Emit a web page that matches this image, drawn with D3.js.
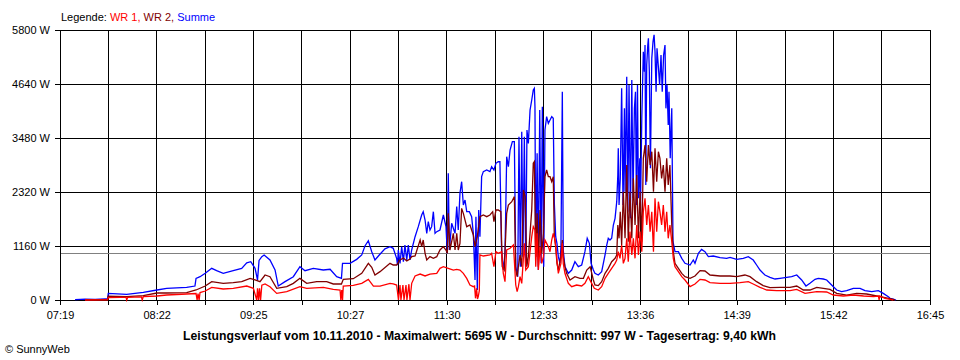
<!DOCTYPE html>
<html><head><meta charset="utf-8">
<script src="https://cdn.jsdelivr.net/npm/d3@7"></script>
<style>
html,body{margin:0;padding:0;background:#fff;}
svg{display:block;font-family:"Liberation Sans",Arial,sans-serif;}
</style></head>
<body><svg id="chart" width="960" height="360"></svg>
<script>
// time = minutes after midnight, value = W
const xLabels = ["07:19","08:22","09:25","10:27","11:30","12:33","13:36","14:39","15:42","16:45"];
const yTicks = [0,1160,2320,3480,4640,5800];
const average = 997;
const seriesNames = ["WR 1","WR 2","Summe"];
const seriesColors = ["#ff0000","#800000","#0000ff"];
const title = "Leistungsverlauf vom 10.11.2010 - Maximalwert: 5695 W - Durchschnitt: 997 W - Tagesertrag: 9,40 kWh";

const summe = [
[448.8,10],[455.3,20],[461.8,15],[468.3,25],[469.9,25],[470.4,143],[482.4,122],[493.2,165],[502.1,215],[508.4,250],[521.4,272],[526.8,300],[527.5,465],[530.1,500],[533.5,573],[537.7,680],[540.9,630],[545.2,573],[551.7,630],[557.2,680],[560.5,800],[563.1,823],[565.9,680],[567.5,430],[568.5,850],[570.3,930],[571.8,967],[575.6,860],[578.9,645],[581.0,300],[585.4,394],[590.8,500],[595.1,716],[598.4,630],[603.8,680],[610.3,645],[614.7,660],[619.0,500],[622.1,465],[622.8,788],[627.7,788],[632.0,873],[635.3,967],[637.4,1160],[639.6,1274],[641.8,1038],[643.9,860],[646.7,967],[650.4,1100],[653.7,1146],[655.8,1110],[658.0,895],[658.6,750],[659.1,1074],[660.2,788],[661.3,1146],[662.4,823],[663.4,1181],[664.6,860],[665.6,1181],[666.7,860],[667.8,1074],[670.0,1360],[672.1,1575],[674.3,1826],[675.3,1897],[676.5,1718],[677.6,1432],[678.6,1683],[679.7,1504],[680.8,1575],[681.9,1897],[683.0,1432],[684.1,1468],[686.2,1504],[688.4,1826],[690.1,1575],[691.0,1002],[691.6,2720],[692.3,1074],[693.8,1647],[696.0,1432],[697.1,2005],[698.1,1504],[699.2,2291],[700.3,2541],[701.4,2040],[702.5,2148],[703.6,1897],[705.3,1897],[706.8,1790],[707.9,1432],[709.0,430],[709.6,1790],[710.5,215],[711.4,1933],[712.2,1360],[713.3,2650],[714.4,2757],[716.6,2792],[718.7,2757],[719.8,2864],[721.3,2792],[722.6,2936],[724.1,2970],[725.2,2971],[726.3,1038],[727.4,644],[728.5,1002],[729.6,3079],[730.7,2864],[731.8,3222],[733.3,3401],[734.6,3401],[735.5,716],[736.8,501],[737.6,3508],[738.5,716],[739.4,3616],[740.2,931],[741.1,3508],[742.0,716],[742.8,3652],[743.7,3365],[744.8,4081],[745.9,4296],[746.9,4511],[747.6,4547],[748.0,4153],[748.5,931],[749.4,3150],[750.2,644],[751.1,4081],[752.0,788],[752.8,4153],[753.7,716],[754.5,3652],[755.6,3938],[756.7,3795],[757.8,3866],[758.9,3938],[759.9,3902],[760.6,2076],[761.5,1360],[762.3,1217],[763.2,931],[764.3,788],[764.9,1146],[765.8,4475],[766.4,1074],[767.5,716],[769.7,573],[771.9,644],[774.0,823],[776.2,716],[778.4,752],[780.5,1038],[782.0,1325],[783.4,1217],[784.5,788],[786.0,644],[787.0,573],[789.2,537],[791.4,609],[793.6,967],[794.7,1181],[795.7,1325],[796.8,1289],[797.9,1325],[799.0,1611],[800.1,1754],[801.2,2112],[801.9,2685],[802.2,3258],[802.7,2040],[803.5,2613],[804.4,4547],[805.3,2040],[806.2,4117],[806.6,2327],[807.7,4797],[808.4,1897],[809.2,4618],[810.1,1754],[811.0,4726],[811.8,2184],[812.7,4117],[813.4,4475],[814.0,2040],[814.7,4618],[815.3,2184],[816.2,3043],[816.6,1897],[817.5,3902],[818.5,5334],[819.2,4905],[819.6,5477],[820.1,2470],[820.7,5048],[821.4,5477],[821.8,5620],[822.4,4905],[823.1,2828],[824.0,5191],[824.8,5549],[825.5,5695],[826.1,5334],[826.8,4475],[827.4,5406],[828.2,5048],[829.1,4618],[830.0,5262],[830.8,4475],[831.7,5262],[832.6,5477],[833.2,4117],[833.9,4618],[834.7,3759],[835.2,4475],[836.0,3043],[837.0,4117],[837.8,1253],[839.1,1038],[841.3,1038],[843.5,895],[845.6,788],[848.9,752],[851.0,859],[852.1,788],[854.3,1002],[856.4,1088],[858.6,1038],[860.8,931],[864.0,945],[868.4,909],[872.7,895],[874.9,916],[879.2,873],[883.5,895],[886.8,931],[890.0,859],[892.2,752],[894.4,644],[897.6,537],[900.9,487],[904.2,451],[907.4,465],[911.8,487],[915.0,501],[918.3,537],[921.5,430],[924.3,301],[926.9,358],[930.2,444],[932.3,465],[935.6,451],[937.8,430],[941.0,322],[944.3,215],[947.5,179],[950.8,200],[955.1,250],[959.5,250],[962.7,200],[967.1,179],[971.4,200],[974.6,143],[977.9,72],[979.0,36],[981.1,21],[982.9,0]
];

const wr2 = [
[455.3,5],[469.9,10],[470.4,80],[482.4,72],[493.2,93],[502.1,150],[508.4,150],[521.4,160],[527.5,215],[533.5,300],[537.7,394],[545.2,358],[551.7,372],[557.2,394],[562.7,465],[565.9,430],[569.1,394],[572.4,537],[575.6,500],[580.0,250],[586.5,286],[590.8,358],[595.1,465],[599.5,358],[606.0,394],[612.5,394],[616.8,344],[622.1,344],[623.3,444],[629.8,458],[635.3,573],[639.6,788],[641.8,702],[643.9,537],[647.2,609],[653.7,788],[655.8,752],[658.0,752],[660.2,860],[662.4,900],[664.6,840],[666.7,880],[667.8,931],[670.0,945],[673.3,1289],[674.3,1146],[675.3,1289],[676.5,1002],[677.6,860],[679.7,931],[681.9,895],[684.1,931],[686.2,1074],[688.4,1146],[690.1,1074],[691.0,1002],[691.6,1862],[692.7,1074],[694.9,1432],[696.0,1074],[697.1,1432],[698.1,1074],[699.2,1217],[700.3,1969],[701.4,1862],[703.6,1575],[705.7,1611],[707.9,1396],[709.0,1146],[710.5,1360],[712.2,1790],[714.4,1826],[716.6,1790],[718.7,1826],[720.5,1897],[721.3,1683],[722.6,1933],[724.1,1933],[725.8,1897],[726.7,716],[728.0,644],[729.6,1862],[730.7,2040],[732.9,2112],[734.6,2220],[735.5,644],[736.4,501],[737.2,716],[738.3,967],[739.4,716],[740.5,2363],[741.6,2220],[742.7,716],[743.7,931],[745.9,1933],[746.9,2936],[747.6,2971],[748.5,931],[749.4,1862],[750.2,716],[751.3,1933],[752.4,1002],[753.5,1432],[754.5,2649],[755.6,2792],[756.7,2649],[757.8,2649],[758.9,2542],[759.9,2649],[760.6,1360],[761.5,1146],[762.3,788],[763.2,644],[764.9,931],[765.8,1289],[766.4,931],[767.5,716],[768.6,573],[770.8,430],[774.0,501],[777.3,465],[779.5,465],[781.7,644],[783.9,716],[786.0,430],[787.0,322],[789.2,308],[791.4,394],[793.6,573],[795.7,680],[797.9,823],[800.1,895],[801.2,967],[801.9,1611],[802.7,1325],[803.5,1897],[804.4,1181],[805.5,2327],[806.6,1325],[807.7,2900],[808.7,1253],[809.8,2327],[811.0,1325],[812.0,2613],[813.1,1611],[814.2,2685],[815.3,1325],[816.4,2327],[817.5,1253],[818.5,3043],[819.6,3329],[820.7,2542],[821.8,3329],[822.9,2900],[824.0,3186],[825.1,2327],[826.1,3258],[827.2,2542],[828.3,3186],[829.3,3043],[830.4,2613],[831.5,2900],[832.6,2327],[833.7,3043],[834.7,2470],[835.8,2900],[837.0,1611],[838.0,1038],[839.1,788],[841.3,680],[843.5,573],[845.6,501],[848.9,465],[852.1,516],[855.4,630],[858.6,623],[861.9,537],[868.4,516],[874.9,516],[879.2,501],[884.6,537],[887.9,501],[892.2,394],[896.5,308],[900.9,265],[907.4,272],[913.9,272],[918.3,301],[922.6,215],[926.9,215],[931.3,272],[935.6,250],[939.9,229],[944.3,143],[950.8,107],[957.3,143],[963.8,129],[970.3,86],[975.7,50],[979.0,29],[982.2,0]
];

const wr1 = [
[455.3,0],[469.9,5],[470.4,50],[478.0,55],[482.0,55],[482.4,0],[483.0,55],[492.0,65],[492.5,0],[493.2,72],[502.1,86],[508.4,107],[521.4,129],[527.5,140],[528.2,0],[528.8,140],[529.5,0],[530.1,160],[533.5,193],[537.7,272],[545.2,236],[551.7,250],[560.5,300],[564.8,250],[567.0,0],[567.5,250],[568.2,0],[568.8,250],[569.5,0],[570.3,320],[572.4,344],[575.6,286],[580.0,143],[586.5,179],[595.1,286],[599.5,250],[610.3,272],[616.8,229],[621.2,215],[621.7,0],[622.3,215],[622.8,0],[623.3,300],[629.8,315],[635.3,358],[639.6,444],[642.9,300],[647.2,300],[653.7,358],[655.8,344],[658.0,322],[659.2,0],[660.2,320],[660.8,0],[662.1,320],[662.8,0],[664.1,320],[664.7,0],[666.0,340],[666.7,0],[667.8,358],[670.0,516],[673.3,558],[676.5,516],[679.7,558],[684.1,573],[686.2,680],[688.4,716],[691.6,680],[694.9,644],[697.1,659],[699.2,644],[701.4,573],[703.6,465],[705.7,322],[707.9,286],[708.7,300],[709.3,36],[710.0,250],[710.6,20],[711.1,72],[711.8,200],[712.2,967],[714.4,945],[718.7,967],[719.8,1002],[721.3,716],[722.6,1038],[724.1,1002],[726.3,1038],[727.4,573],[728.5,394],[729.6,1074],[731.8,1110],[734.0,1181],[735.5,322],[736.4,179],[737.2,286],[738.3,501],[739.4,358],[741.1,1217],[742.0,644],[743.7,716],[745.9,1360],[746.9,1575],[748.0,1504],[748.5,716],[749.4,1432],[750.2,644],[751.3,1146],[752.4,788],[753.5,931],[754.5,1289],[755.6,1217],[756.7,1146],[757.8,1038],[758.9,1289],[759.9,1432],[761.1,1289],[762.1,931],[763.2,573],[764.9,788],[765.8,1217],[766.4,788],[767.5,573],[769.7,358],[771.9,286],[775.1,322],[778.4,301],[780.5,358],[782.7,501],[784.9,358],[786.6,250],[789.2,215],[791.4,286],[793.6,465],[795.7,573],[797.9,680],[800.1,788],[801.2,859],[802.2,1038],[803.3,895],[804.4,1181],[805.5,788],[806.6,895],[807.7,1325],[808.7,823],[809.8,1468],[811.0,967],[812.0,1325],[813.1,895],[814.2,1611],[815.3,967],[816.4,1468],[817.5,1038],[818.5,1897],[819.6,2184],[820.7,1611],[821.8,2040],[822.9,1468],[824.0,1897],[825.1,1038],[826.1,2184],[827.2,1468],[828.3,2112],[829.3,1897],[830.4,1611],[831.5,2040],[832.6,1468],[833.7,1897],[834.7,1325],[835.8,1611],[837.0,1253],[838.0,895],[839.1,716],[841.3,609],[843.5,501],[845.6,430],[848.9,286],[852.1,344],[855.4,444],[858.6,430],[861.9,372],[868.4,358],[874.9,358],[881.4,372],[886.8,394],[890.0,344],[894.4,272],[898.8,215],[905.3,200],[913.9,200],[918.3,229],[923.7,143],[926.9,158],[931.3,179],[937.8,172],[942.1,107],[948.6,86],[955.1,107],[961.8,86],[968.3,72],[971.4,86],[971.9,0],[972.3,86],[975.7,36],[979.0,14],[981.1,0]
];

const svg = d3.select("#chart");
const margin = {left:60, right:30, top:30, bottom:60};
const W = 960, H = 360;
const toMin = s => { const [h,m] = s.split(":").map(Number); return h*60+m; };
const t0 = toMin(xLabels[0]), t1 = toMin(xLabels[xLabels.length-1]);
const x = d3.scaleLinear().domain([t0,t1]).range([margin.left, W-margin.right]);
const y = d3.scaleLinear().domain([0, d3.max(yTicks)]).range([H-margin.bottom, margin.top]);

const nInt = (xLabels.length-1)*2;
const xTickVals = d3.range(nInt+1).map(i => t0 + i*(t1-t0)/nInt);

// grid
const grid = svg.append("g").attr("shape-rendering","crispEdges").attr("stroke","#000").attr("stroke-width",1);
grid.selectAll("line.h").data(yTicks).join("line").attr("class","h")
  .attr("x1", x(t0)).attr("x2", x(t1)).attr("y1", d=>y(d)).attr("y2", d=>y(d));
grid.selectAll("line.v").data(xTickVals).join("line").attr("class","v")
  .attr("x1", d=>x(d)).attr("x2", d=>x(d)).attr("y1", y(0)).attr("y2", y(d3.max(yTicks)));

// average line
svg.append("line").attr("shape-rendering","crispEdges")
  .attr("x1", x(t0)).attr("x2", x(t1)).attr("y1", y(average)).attr("y2", y(average))
  .attr("stroke","#808080").attr("stroke-width",1);

// axes
const yAxis = svg.append("g").attr("transform",`translate(${x(t0)},0)`)
  .call(d3.axisLeft(y).tickValues(yTicks).tickSize(5).tickSizeOuter(0).tickPadding(5).tickFormat(d=>d+" W"));
const xAxis = svg.append("g").attr("transform",`translate(0,${y(0)})`)
  .call(d3.axisBottom(x).tickValues(xTickVals).tickSize(5).tickSizeOuter(0).tickPadding(6)
    .tickFormat((d,i)=> i%2===0 ? xLabels[i/2] : ""));
[yAxis,xAxis].forEach(a=>{
  a.attr("font-family",'"Liberation Sans",Arial,sans-serif').attr("font-size",11);
  a.selectAll("path,line").attr("stroke","#000").attr("shape-rendering","crispEdges");
  a.selectAll("text").attr("fill","#000");
});

// series
const line = d3.line().x(d=>x(d[0])).y(d=>y(d[1]));
const data = [summe, wr2, wr1];
const cols = [seriesColors[2], seriesColors[1], seriesColors[0]];
data.forEach((s,i)=>{
  svg.append("path").datum(s).attr("d",line).attr("fill","none")
    .attr("stroke",cols[i]).attr("stroke-width",1.3).attr("stroke-linejoin","miter");
});

// legend
const lg = svg.append("text").attr("x",61).attr("y",21).attr("font-size",11);
lg.append("tspan").text("Legende: ").attr("fill","#000");
seriesNames.forEach((n,i)=>{
  lg.append("tspan").text((i>0?" ":"")+n+(i<seriesNames.length-1?",":"")).attr("fill",seriesColors[i]);
});

// title
svg.append("text").attr("x",479.5).attr("y",340).attr("text-anchor","middle")
  .attr("font-size",12).attr("font-weight","bold").attr("textLength",593).attr("lengthAdjust","spacingAndGlyphs")
  .text(title);
svg.append("text").attr("x",5).attr("y",353).attr("font-size",11).text("© SunnyWeb");
</script></body></html>
